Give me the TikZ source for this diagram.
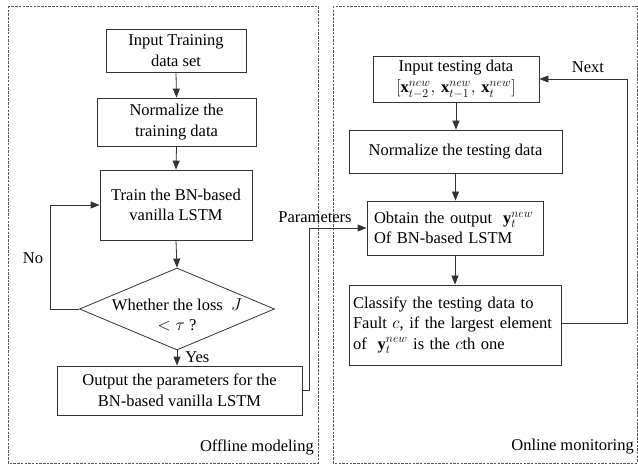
\documentclass[tikz,border=0pt]{standalone}
\usepackage{fontspec}
\setmainfont{Liberation Serif}
\usetikzlibrary{arrows.meta,shapes.geometric}
\begin{document}
\begin{tikzpicture}[x=1pt,y=-1pt,
  every node/.style={font=\fontsize{16.5}{20.5}\selectfont},
  pbox/.style={draw=black!80,line width=0.8pt,align=center,inner sep=0pt},
  lbox/.style={draw=black!80,line width=0.8pt,align=left,inner xsep=4pt,inner ysep=0pt,
    execute at begin node={\hyphenpenalty=10000\exhyphenpenalty=10000}},
  frame/.style={draw=black!65,dash pattern=on 2.5pt off 1.2pt,line width=0.9pt},
  conn/.style={draw=black!80,line width=0.8pt,-{Triangle[length=9pt,width=7pt]}},
  lbl/.style={inner sep=1pt}]
\useasboundingbox (0,0) rectangle (638,468);
% frames
\draw[frame] (8,6) rectangle (318,463);
\draw[frame] (333,6) rectangle (637,463);
% left column
\node[pbox,minimum width=140,minimum height=43] (n1) at (176,50.5) {Input Training\\data set};
\node[pbox,minimum width=159,minimum height=48] (n2) at (176.5,122) {Normalize the\\training data};
\node[pbox,minimum width=152,minimum height=70] (n3) at (176,205) {Train the BN-based\\vanilla LSTM};
\node[draw=black!80,line width=0.8pt,shape=diamond,minimum width=195,minimum height=82,inner sep=0pt] (d) at (177,309) {};
\node[lbl,align=center] (dt) at (177,315) {Whether the loss \ $J$\\$<\tau$ ?};
\node[pbox,minimum width=245,minimum height=49] (n4) at (179.5,390.5) {Output the parameters for the\\BN-based vanilla LSTM};
\node[lbl,anchor=east] (off) at (315,447) {Offline modeling};
% right column
\node[pbox,minimum width=166,minimum height=46] (m1) at (456,79) {Input testing data\\[1pt]$[\mathbf{x}_{t-2}^{new},\,\mathbf{x}_{t-1}^{new},\,\mathbf{x}_{t}^{new}]$};
\node[pbox,minimum width=213,minimum height=43] (m2) at (455.5,151.5) {Normalize the testing data};
\node[lbox,inner xsep=7pt,minimum width=176,minimum height=54,text width=162] (m3) at (455,228) {Obtain the output \ $\mathbf{y}_t^{new}$\\Of BN-based LSTM};
\node[lbox,minimum width=212,minimum height=80,text width=204] (m4) at (455,325) {Classify the testing data to\\Fault $c$, if the largest element\\of \ $\mathbf{y}_t^{new}$ is the $c$th one};
\node[lbl,anchor=east] (onl) at (635,447) {Online monitoring};
% connectors left
\draw[conn] (n1.south) -- (n2.north);
\draw[conn] (n2.south) -- (n3.north);
\draw[conn] (n3.south) -- (d.north);
\draw[conn] (d.south) -- node[lbl,right,pos=0.45,xshift=7pt] (yes) {Yes} (d.south |- n4.north);
\coordinate (nol) at (50,309);
\draw[conn] (d.west) -- (nol) |- (n3.west);
\node[lbl] (no) at (33,258) {No};
\coordinate (pr) at (309,390.5);
\draw[conn] (n4.east) -- (pr) |- (m3.west);
\node[lbl] (par) at (315,217) {Parameters};
% connectors right
\draw[conn] (m1.south) -- (m1.south |- m2.north);
\draw[conn] (m2.south) -- (m2.south |- m3.north);
\draw[conn] (m3.south) -- (m3.south |- m4.north);
\coordinate (nx) at (627,323);
\draw[conn] (m4.east |- nx) -- (nx) |- (m1.east);
\node[lbl] (next) at (588,67) {Next};
\end{tikzpicture}
\end{document}
